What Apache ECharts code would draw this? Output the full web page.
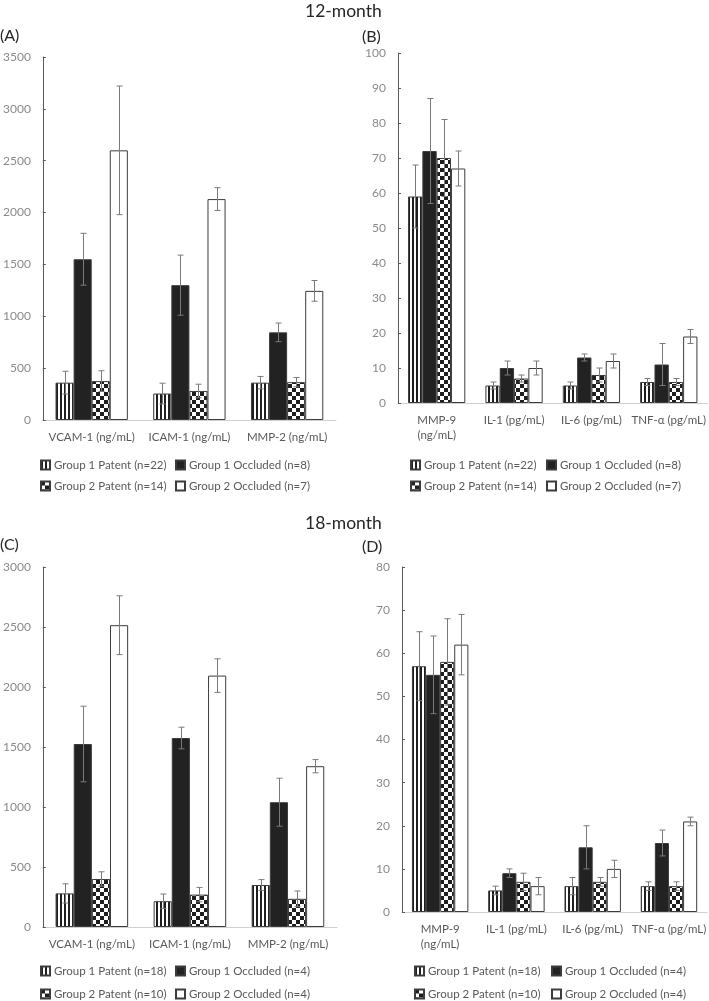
<!DOCTYPE html>
<html>
<head>
<meta charset="utf-8">
<script src="https://cdn.jsdelivr.net/npm/echarts@6/dist/echarts.min.js"></script>
<style>
html,body{margin:0;padding:0;background:#fff;}
#chart{width:709px;height:1001px;}
</style>
</head>
<body>
<div id="chart"></div>
<script>
// ---------- DATA ----------
const categoriesA = ['VCAM-1 (ng/mL)', 'ICAM-1 (ng/mL)', 'MMP-2 (ng/mL)'];
const categoriesB = ['MMP-9\n(ng/mL)', 'IL-1 (pg/mL)', 'IL-6 (pg/mL)', 'TNF-α (pg/mL)'];

const namesTop = ['Group 1 Patent (n=22)', 'Group 1 Occluded (n=8)', 'Group 2 Patent (n=14)', 'Group 2 Occluded (n=7)'];
const namesBottom = ['Group 1 Patent (n=18)', 'Group 1 Occluded (n=4)', 'Group 2 Patent (n=10)', 'Group 2 Occluded (n=4)'];

// Panel A (12-month, adhesion molecules / MMP-2)
const a_g1p = [360, 255, 360];   const a_g1p_err = [110, 100, 60];
const a_g1o = [1550, 1300, 845]; const a_g1o_err = [250, 290, 90];
const a_g2p = [375, 280, 365];   const a_g2p_err = [100, 65, 45];
const a_g2o = [2600, 2130, 1245];const a_g2o_err = [620, 110, 100];

// Panel B (12-month, MMP-9 / cytokines)
const b_g1p = [59, 5, 5, 6];   const b_g1p_err = [9, 1, 1, 1];
const b_g1o = [72, 10, 13, 11];const b_g1o_err = [15, 2, 1, 6];
const b_g2p = [70, 7, 8, 6];   const b_g2p_err = [11, 1, 2, 1];
const b_g2o = [67, 10, 12, 19];const b_g2o_err = [5, 2, 2, 2];

// Panel C (18-month, adhesion molecules / MMP-2)
const c_g1p = [280, 215, 350];    const c_g1p_err = [80, 60, 45];
const c_g1o = [1525, 1575, 1040]; const c_g1o_err = [315, 90, 200];
const c_g2p = [400, 270, 235];    const c_g2p_err = [60, 60, 65];
const c_g2o = [2515, 2095, 1340]; const c_g2o_err = [245, 140, 55];

// Panel D (18-month, MMP-9 / cytokines)
const d_g1p = [57, 5, 6, 6];    const d_g1p_err = [8, 1, 2, 1];
const d_g1o = [55, 9, 15, 16];  const d_g1o_err = [9, 1, 5, 3];
const d_g2p = [58, 7, 7, 6];    const d_g2p_err = [10, 2, 1, 1];
const d_g2o = [62, 6, 10, 21];  const d_g2o_err = [7, 2, 2, 1];

// y-axis scales
const yA = {min: 0, max: 3500, interval: 500};
const yB = {min: 0, max: 100, interval: 10};
const yC = {min: 0, max: 3000, interval: 500};
const yD = {min: 0, max: 80, interval: 10};

// ---------- STYLE ----------
const FONT = 'Lato';
const GAP = 0.26;

function makeStripes() {
  const c = document.createElement('canvas');
  c.width = 4; c.height = 4;
  const ctx = c.getContext('2d');
  ctx.fillStyle = '#ffffff'; ctx.fillRect(0, 0, 4, 4);
  ctx.fillStyle = '#1e1e1e'; ctx.fillRect(0, 0, 2, 4);
  return c;
}
function makeChecker() {
  const c = document.createElement('canvas');
  c.width = 8; c.height = 8;
  const ctx = c.getContext('2d');
  ctx.fillStyle = '#ffffff'; ctx.fillRect(0, 0, 8, 8);
  ctx.fillStyle = '#1e1e1e'; ctx.fillRect(0, 0, 4, 4); ctx.fillRect(4, 4, 4, 4);
  return c;
}
const stripes = {image: makeStripes(), repeat: 'repeat'};
const checker = {image: makeChecker(), repeat: 'repeat'};
const fills = [stripes, '#222222', checker, '#ffffff'];

const panels = [
  {cats: categoriesA, names: namesTop, y: yA, vals: [a_g1p, a_g1o, a_g2p, a_g2o], errs: [a_g1p_err, a_g1o_err, a_g2p_err, a_g2o_err],
   grid: {left: 41, top: 57, width: 295, height: 363}},
  {cats: categoriesB, names: namesTop, y: yB, vals: [b_g1p, b_g1o, b_g2p, b_g2o], errs: [b_g1p_err, b_g1o_err, b_g2p_err, b_g2o_err],
   grid: {left: 398, top: 53, width: 310, height: 350}},
  {cats: categoriesA, names: namesBottom, y: yC, vals: [c_g1p, c_g1o, c_g2p, c_g2o], errs: [c_g1p_err, c_g1o_err, c_g2p_err, c_g2o_err],
   grid: {left: 41, top: 567, width: 296, height: 360}},
  {cats: categoriesB, names: namesBottom, y: yD, vals: [d_g1p, d_g1o, d_g2p, d_g2o], errs: [d_g1p_err, d_g1o_err, d_g2p_err, d_g2o_err],
   grid: {left: 402, top: 567, width: 307, height: 345}}
];

const grids = [], xAxes = [], yAxes = [], series = [], legends = [];

function renderErr(params, api) {
  const cat = api.value(0), g = api.value(1);
  const lo = api.coord([cat, api.value(2)]);
  const hi = api.coord([cat, api.value(3)]);
  const band = api.size([1, 0])[0];
  const groupW = band * (1 - GAP);
  const bw = groupW / 4;
  const x = Math.round(lo[0] - groupW / 2 + bw * (g + 0.5)) + 0.5;
  const cap = 3;
  const st = {stroke: '#7a7a7a', lineWidth: 1};
  return {type: 'group', children: [
    {type: 'line', shape: {x1: x, y1: hi[1], x2: x, y2: lo[1]}, style: st},
    {type: 'line', shape: {x1: x - cap, y1: hi[1], x2: x + cap, y2: hi[1]}, style: st},
    {type: 'line', shape: {x1: x - cap, y1: lo[1], x2: x + cap, y2: lo[1]}, style: st}
  ]};
}

panels.forEach((p, i) => {
  grids.push(Object.assign({containLabel: false}, p.grid));
  xAxes.push({
    type: 'category', gridIndex: i, data: p.cats,
    axisLine: {lineStyle: {color: '#d0d0d0', width: 1}},
    axisTick: {show: false},
    axisLabel: {color: '#595959', fontFamily: FONT, fontSize: 11.5, margin: 10, interval: 0, lineHeight: 15}
  });
  yAxes.push({
    type: 'value', gridIndex: i, min: p.y.min, max: p.y.max, interval: p.y.interval,
    splitLine: {show: false},
    axisLine: {show: true, lineStyle: {color: '#595959', width: 1}},
    axisTick: {show: true, inside: true, length: 3, lineStyle: {color: '#595959'}},
    axisLabel: {color: '#8a8a8a', fontFamily: FONT, fontSize: 12, margin: 12, formatter: v => String(v)}
  });
  const errData = [];
  p.vals.forEach((vals, g) => {
    series.push({
      type: 'bar', name: p.names[g], xAxisIndex: i, yAxisIndex: i, data: vals,
      barGap: '0%', barCategoryGap: (GAP * 100) + '%',
      itemStyle: {color: fills[g], borderColor: '#3c3c3c', borderWidth: 1},
      emphasis: {disabled: true}, animation: false
    });
    vals.forEach((v, c) => {
      errData.push([c, g, v - p.errs[g][c], v + p.errs[g][c]]);
    });
  });
  series.push({
    type: 'custom', xAxisIndex: i, yAxisIndex: i, data: errData,
    encode: {x: 0, y: [2, 3]}, renderItem: renderErr, z: 5, silent: true, animation: false
  });
});

// legends: one per item, 2x2 layout
const legendPos = [
  {cols: [40, 175], rows: [466, 487], names: namesTop},
  {cols: [410, 546], rows: [466, 487], names: namesTop},
  {cols: [40, 175], rows: [972, 995], names: namesBottom},
  {cols: [414, 551], rows: [972, 995], names: namesBottom}
];
legendPos.forEach(lp => {
  lp.names.forEach((n, k) => {
    legends.push({
      data: [{name: n, icon: 'rect'}], left: lp.cols[k % 2], top: lp.rows[Math.floor(k / 2)] - 7,
      itemWidth: 9, itemHeight: 9, itemGap: 4, padding: 0,
      textStyle: {color: '#595959', fontFamily: FONT, fontSize: 11.5, padding: [0, 0, 0, -1]},
      selectedMode: false
    });
  });
});

const chart = echarts.init(document.getElementById('chart'), null, {renderer: 'canvas'});
chart.setOption({
  animation: false,
  backgroundColor: '#ffffff',
  grid: grids, xAxis: xAxes, yAxis: yAxes, series: series, legend: legends,
  graphic: [
    {type: 'text', left: 305, top: 2, style: {text: '12-month', fontFamily: FONT, fontSize: 17.5, fill: '#262626'}},
    {type: 'text', left: 305, top: 514, style: {text: '18-month', fontFamily: FONT, fontSize: 17.5, fill: '#262626'}},
    {type: 'text', left: 0, top: 28, style: {text: '(A)', fontFamily: FONT, fontSize: 16, fill: '#262626'}},
    {type: 'text', left: 362, top: 29, style: {text: '(B)', fontFamily: FONT, fontSize: 16, fill: '#262626'}},
    {type: 'text', left: 0, top: 537, style: {text: '(C)', fontFamily: FONT, fontSize: 16, fill: '#262626'}},
    {type: 'text', left: 362, top: 539, style: {text: '(D)', fontFamily: FONT, fontSize: 16, fill: '#262626'}}
  ]
});
</script>
</body>
</html>
